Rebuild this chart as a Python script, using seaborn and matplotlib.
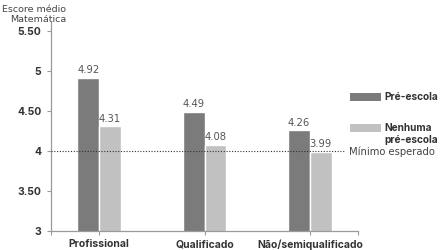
import matplotlib
matplotlib.use("Agg")
import matplotlib.pyplot as plt
import seaborn as sns
import pandas as pd
from matplotlib.patches import Rectangle

categories = ["Profissional", "Qualificado", "Não/semiqualificado"]
pre_escola = [4.92, 4.49, 4.26]
nenhuma = [4.31, 4.08, 3.99]
series_names = ["Pré-escola", "Nenhuma\npré-escola"]
yticks = [3, 3.5, 4, 4.5, 5, 5.5]
ytick_labels = ["3", "3.50", "4", "4.50", "5", "5.50"]
ref_value = 4
ref_label = "Mínimo esperado"

sns.set_theme(style="white")
BOLD = ["Inter", "DejaVu Sans"]
REG = ["DejaVu Sans"]
plt.rcParams["font.family"] = BOLD

df = pd.DataFrame({
    "cat": categories * 2,
    "serie": [series_names[0]] * 3 + [series_names[1]] * 3,
    "val": pre_escola + nenhuma,
})

W, H = 440, 250
fig = plt.figure(figsize=(W / 100, H / 100), dpi=100)
ax = fig.add_axes([51 / W, 1 - 231 / H, (358 - 51) / W, (231 - 22) / H])

colors = ["#7b7b7b", "#c1c1c1"]
sns.barplot(data=df, x="cat", y="val", hue="serie", palette=colors,
            width=0.41, dodge=True, ax=ax, legend=False, saturation=1)

ax.set_xlim(-0.455, 2.455)
ax.set_ylim(3, 5.615)
ax.set_yticks(yticks)
ax.set_yticklabels(ytick_labels)
ax.set_xlabel("")
ax.set_ylabel("")

for s in ["top", "right"]:
    ax.spines[s].set_visible(False)
for s in ["left", "bottom"]:
    ax.spines[s].set_color("#9a9a9a")
    ax.spines[s].set_linewidth(0.9)

FB = 7.5
FR = 7.2
ax.tick_params(axis="y", left=True, length=3, width=0.8, color="#9a9a9a",
               labelsize=FB, labelcolor="#333333", pad=4)
ax.tick_params(axis="x", bottom=True, length=3, width=0.8, color="#9a9a9a",
               labelsize=FB, labelcolor="#333333", pad=3)
ax.set_xticks([-0.455, 2.455], minor=True)
ax.tick_params(axis="x", which="minor", bottom=True, length=3, width=0.8, color="#9a9a9a")
for lbl in ax.get_yticklabels() + ax.get_xticklabels():
    lbl.set_fontweight("bold")

# value labels
for cont in ax.containers:
    ax.bar_label(cont, labels=[f"{v:.2f}" for v in cont.datavalues],
                 fontsize=FR, color="#555555", padding=2, family=REG)

# reference line
ax.axhline(ref_value, xmin=0, xmax=(345 - 51) / (358 - 51), color="#333333",
           linestyle=(0, (1, 1.5)), linewidth=0.8, zorder=3)
fig.text(349 / W, 1 - 152 / H, ref_label, fontsize=FR, color="#444444",
         va="center", ha="left", family=REG)

# axis title
fig.text(66 / W, 1 - 9 / H, "Escore médio", fontsize=6.8, color="#444444",
         ha="right", va="center", family=REG)
fig.text(66 / W, 1 - 20 / H, "Matemática", fontsize=6.8, color="#444444",
         ha="right", va="center", family=REG)

# legend
leg = [(97, colors[0], series_names[0], 97), (128, colors[1], series_names[1], 134)]
for ypatch, col, name, ytext in leg:
    fig.add_artist(Rectangle((350 / W, 1 - (ypatch + 4) / H), 31 / W, 8 / H,
                             transform=fig.transFigure, facecolor=col, edgecolor="none"))
    fig.text(384 / W, 1 - ytext / H, name, fontsize=7.3, fontweight="bold",
             color="#333333", ha="left", va="center", linespacing=1.2)

fig.savefig("out.png", dpi=100)
